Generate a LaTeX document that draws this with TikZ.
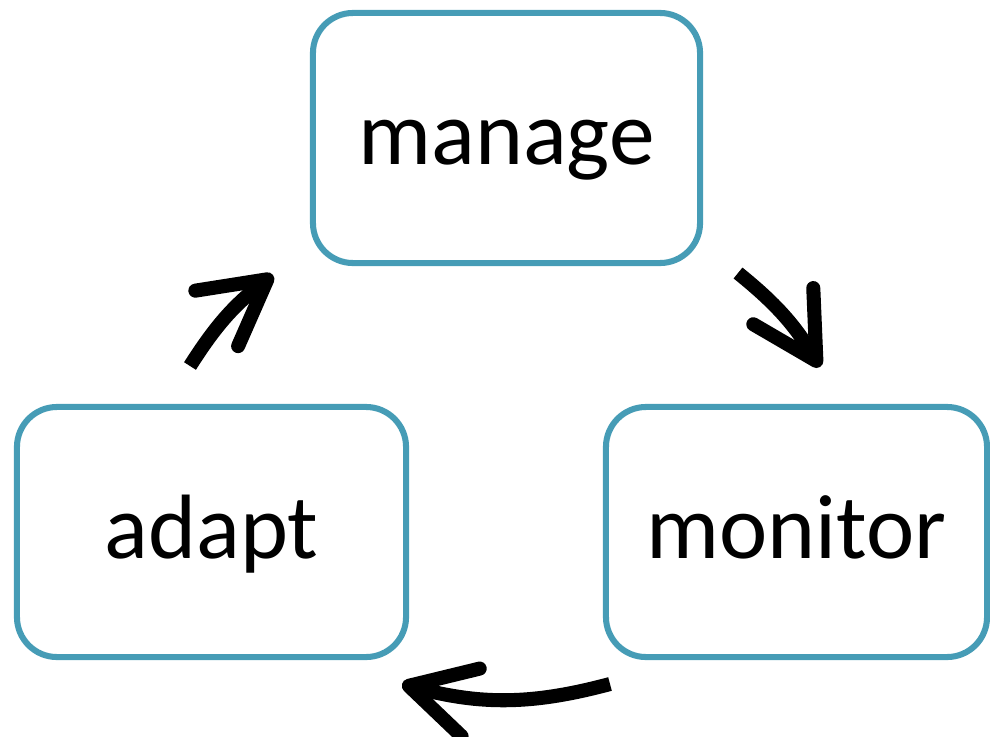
\documentclass[tikz,border=0pt]{standalone}
\usepackage{fontspec}
\setmainfont{Carlito}
\usetikzlibrary{arrows.meta,shadows}
\definecolor{boxteal}{RGB}{70,156,182}

\begin{document}
\begin{tikzpicture}[x=0.025cm, y=-0.025cm,
    stage/.style={draw=boxteal, line width=4.3pt, fill=white, rounded corners=1cm,
      minimum height=6.25cm, text height=1.8cm, text depth=0.5cm,
      font=\fontsize{65}{78}\selectfont,
      drop shadow={opacity=0.2, shadow xshift=1.5pt, shadow yshift=-1.5pt}},
    turn/.style={line width=10pt,
      -{Straight Barb[length=1.6cm, width=1.75cm, round]}}]
  \useasboundingbox (0,0) rectangle (990,736);
  % stages
  \node[stage, minimum width=9.675cm] (manage) at (506.5,138) {manage};
  \node[stage, minimum width=9.725cm] (adapt) at (211.5,532) {adapt};
  \node[stage, minimum width=9.525cm] (monitor) at (796.5,532) {monitor};
  % arrow ends
  \coordinate (adapt-out) at (190,366);
  \coordinate (manage-in) at (273,275);
  \coordinate (manage-out) at (738,273);
  \coordinate (monitor-in) at (820,367);
  \coordinate (monitor-out) at (610,684);
  \coordinate (adapt-in) at (402,684);
  % cycle
  \draw[turn] (adapt-out) to[bend left=10] (manage-in);
  \draw[turn] (manage-out) to[bend left=10] (monitor-in);
  \draw[turn] (monitor-out) to[bend left=15] (adapt-in);
\end{tikzpicture}
\end{document}
